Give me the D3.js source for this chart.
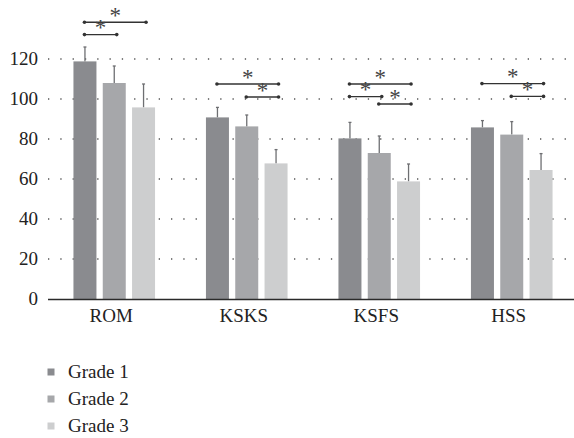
<!DOCTYPE html>
<html><head><meta charset="utf-8">
<script src="https://cdn.jsdelivr.net/npm/d3@7"></script>
<style>body{margin:0;background:#fff}svg{display:block}</style>
</head><body>
<script>
const categories = ["ROM", "KSKS", "KSFS", "HSS"];
const seriesNames = ["Grade 1", "Grade 2", "Grade 3"];
const grade1 = [118.8, 90.8, 80.3, 85.8];
const grade2 = [108, 86.3, 73, 82.2];
const grade3 = [95.8, 67.8, 58.8, 64.5];
const err1 = [7.2, 5.0, 8.0, 3.4];
const err2 = [8.5, 5.7, 8.5, 6.5];
const err3 = [11.7, 6.9, 8.7, 8.2];
const yTicks = [0, 20, 40, 60, 80, 100, 120];
// significance brackets: [category, fromSeries, toSeries, level]
const sigCat = ["ROM", "ROM", "KSKS", "KSKS", "KSFS", "KSFS", "KSFS", "HSS", "HSS"];
const sigFrom = [0, 0, 0, 1, 0, 0, 1, 0, 1];
const sigTo = [2, 1, 2, 2, 2, 1, 2, 2, 2];
const sigLevel = [138.4, 132.2, 107.5, 101, 107.5, 101.2, 97.5, 107.7, 101.3];

const colors = ["#8a8b8f", "#a6a7aa", "#cdcecf"];
const W = 574, H = 438;
const svg = d3.select("body").append("svg").attr("width", W).attr("height", H);
const font = "'Liberation Serif', 'Times New Roman', serif";

const x0 = d3.scaleBand().domain(categories).range([48, 578]);
const x1 = d3.scaleBand().domain([0, 1, 2]).range([-40.8, 40.8]).paddingInner(0.215);
const y = d3.scaleLinear().domain([0, 120]).range([299, 59]);

// gridlines
svg.append("g").selectAll("line").data(yTicks.filter(d => d > 0)).join("line")
  .attr("x1", 48).attr("x2", 574)
  .attr("y1", d => y(d)).attr("y2", d => y(d))
  .attr("stroke", "#555").attr("stroke-width", 1.3)
  .attr("stroke-dasharray", "1.3,11");

// y labels
svg.append("g").selectAll("text").data(yTicks).join("text")
  .attr("x", 38).attr("y", d => y(d)).attr("dy", "0.33em")
  .attr("text-anchor", "end").attr("font-family", font).attr("font-size", 19)
  .attr("fill", "#222").text(d => d);

const series = [grade1, grade2, grade3];
const errs = [err1, err2, err3];
const rows = [];
categories.forEach((c, i) => series.forEach((s, j) => rows.push({c, j, v: s[i], e: errs[j][i]})));

const bx = d => x0(d.c) + x0.bandwidth() / 2 + x1(d.j);
const g = svg.append("g");
// error bars
g.selectAll("line.err").data(rows).join("line").attr("class", "err")
  .attr("x1", d => bx(d) + x1.bandwidth() / 2).attr("x2", d => bx(d) + x1.bandwidth() / 2)
  .attr("y1", d => y(d.v)).attr("y2", d => y(d.v + d.e))
  .attr("stroke", "#6e6f72").attr("stroke-width", 1.3);
g.selectAll("line.cap").data(rows).join("line").attr("class", "cap")
  .attr("x1", d => bx(d) + x1.bandwidth() / 2 - 1.5).attr("x2", d => bx(d) + x1.bandwidth() / 2 + 1.5)
  .attr("y1", d => y(d.v + d.e)).attr("y2", d => y(d.v + d.e))
  .attr("stroke", "#6e6f72").attr("stroke-width", 1.3);
g.selectAll("rect").data(rows).join("rect")
  .attr("x", d => bx(d)).attr("width", x1.bandwidth())
  .attr("y", d => y(d.v)).attr("height", d => y(0) - y(d.v))
  .attr("fill", d => colors[d.j]);

// axis line
svg.append("line").attr("x1", 48).attr("x2", 574).attr("y1", y(0) + 0.5).attr("y2", y(0) + 0.5)
  .attr("stroke", "#2a2a2a").attr("stroke-width", 1.6);

// category labels
svg.append("g").selectAll("text").data(categories).join("text")
  .attr("x", d => x0(d) + x0.bandwidth() / 2 - 3).attr("y", 322)
  .attr("text-anchor", "middle").attr("font-family", font).attr("font-size", 19)
  .attr("fill", "#222").text(d => d);

// significance brackets
const sig = sigCat.map((c, i) => ({c, a: sigFrom[i], b: sigTo[i], v: sigLevel[i]}));
const cx = (c, j) => x0(c) + x0.bandwidth() / 2 + x1(j) + x1.bandwidth() / 2;
const sg = svg.append("g");
sig.forEach(s => {
  const xa = cx(s.c, s.a) - 0.5, xb = cx(s.c, s.b) + 2.5, yy = y(s.v);
  sg.append("line").attr("x1", xa).attr("x2", xb).attr("y1", yy).attr("y2", yy)
    .attr("stroke", "#333").attr("stroke-width", 1.4);
  sg.append("circle").attr("cx", xa).attr("cy", yy).attr("r", 1.8).attr("fill", "#333");
  sg.append("circle").attr("cx", xb).attr("cy", yy).attr("r", 1.8).attr("fill", "#333");
  sg.append("text").attr("x", (xa + xb) / 2).attr("y", yy + 0.5)
    .attr("text-anchor", "middle").attr("font-family", font).attr("font-size", 23)
    .attr("fill", "#444").text("*");
});

// legend
const lg = svg.append("g");
seriesNames.forEach((n, i) => {
  const yy = 372 + i * 27;
  lg.append("rect").attr("x", 47.5).attr("y", yy - 3.5).attr("width", 7).attr("height", 7).attr("fill", colors[i]);
  lg.append("text").attr("x", 68).attr("y", yy + 6).attr("font-family", font).attr("font-size", 19)
    .attr("fill", "#222").text(n);
});
</script>
</body></html>
